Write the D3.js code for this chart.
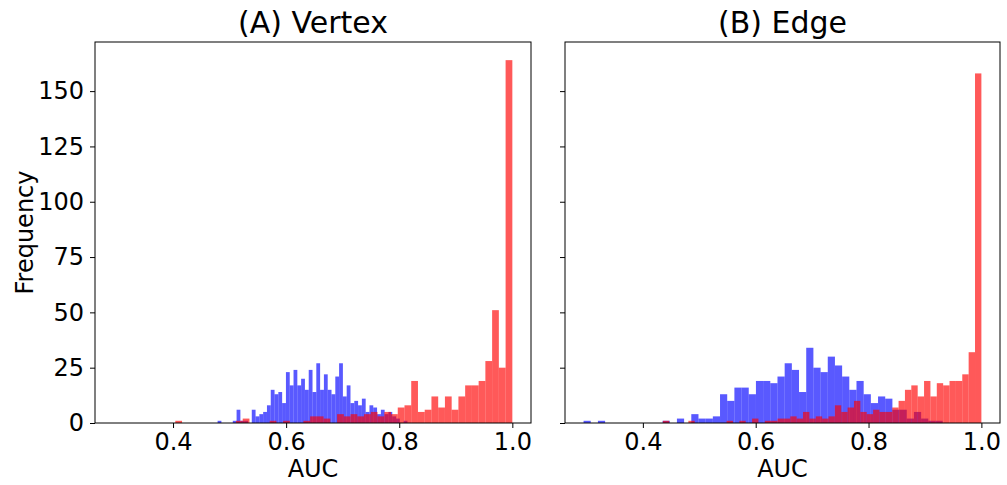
<!DOCTYPE html>
<html>
<head>
<script src="https://cdnjs.cloudflare.com/ajax/libs/d3/7.8.5/d3.min.js"></script>
<style>
  body { margin: 0; background: white; }
  svg text { font-family: "DejaVu Sans", sans-serif; fill: black; }
</style>
</head>
<body>
<script>
var titles = ["(A) Vertex", "(B) Edge"];
var xTicks = [0.4, 0.6, 0.8, 1.0];
var yTicks = [0, 25, 50, 75, 100, 125, 150];

// each histogram: 50 bins spread over [min, max]
var vertexBlueRange = [0.4788, 0.8145];
var vertexBlue = [1, 0, 0, 0, 1, 6, 1, 1, 0, 6,
                  3, 4, 5, 8, 15, 13, 14, 9, 23, 17,
                  24, 17, 20, 15, 24, 14, 27, 15, 22, 15,
                  13, 21, 27, 12, 17, 9, 10, 8, 11, 5,
                  8, 7, 4, 6, 4, 5, 3, 2, 0, 1];
var vertexRedRange = [0.404, 1.0];
var vertexRed = [1, 0, 0, 0, 0, 0, 0, 0, 0, 1,
                 2, 0, 0, 0, 1, 0, 1, 0, 0, 1,
                 3, 3, 2, 0, 4, 3, 4, 3, 4, 5,
                 3, 5, 4, 7, 8, 19, 5, 6, 12, 7,
                 12, 6, 12, 17, 17, 19, 28, 51, 25, 164];
var edgeBlueRange = [0.2949, 0.9314];
var edgeBlue = [1, 0, 1, 0, 0, 0, 0, 0, 0, 0,
                0, 1, 0, 2, 0, 4, 2, 2, 3, 13,
                10, 16, 16, 13, 19, 19, 18, 21, 27, 24,
                14, 34, 25, 23, 30, 26, 21, 15, 19, 13,
                9, 12, 11, 6, 6, 2, 5, 2, 1, 1];
var edgeRedRange = [0.4355, 1.0];
var edgeRed = [1, 0, 0, 0, 1, 0, 0, 0, 0, 0,
               1, 0, 1, 0, 2, 0, 1, 1, 2, 2,
               3, 2, 5, 2, 3, 2, 3, 8, 5, 7,
               10, 5, 4, 6, 5, 5, 7, 10, 15, 17,
               12, 19, 12, 18, 17, 19, 19, 22, 32, 158];

function toBins(range, counts) {
    var w = (range[1] - range[0]) / counts.length;
    return counts.map(function(c, i) {
        return { x0: range[0] + i * w, x1: range[0] + (i + 1) * w, n: c };
    });
}

var panels = [
    { left: 95, width: 436, title: titles[0], showY: true,
      blue: toBins(vertexBlueRange, vertexBlue), red: toBins(vertexRedRange, vertexRed) },
    { left: 565, width: 435, title: titles[1], showY: false,
      blue: toBins(edgeBlueRange, edgeBlue), red: toBins(edgeRedRange, edgeRed) }
];

var plotTop = 42, plotHeight = 381;

var svg = d3.select('body')
    .append('svg')
    .attr('width', 1007)
    .attr('height', 485);

var y = d3.scaleLinear()
    .domain([0, 172.2])
    .range([plotTop + plotHeight, plotTop]);

panels.forEach(function(p) {
    var x = d3.scaleLinear()
        .domain([0.262, 1.033])
        .range([p.left, p.left + p.width]);

    var g = svg.append('g');

    [['blue', p.blue], ['red', p.red]].forEach(function(s) {
        g.selectAll(null)
            .data(s[1].filter(function(d) { return d.n > 0; }))
            .enter()
            .append('rect')
            .attr('x', function(d) { return x(d.x0); })
            .attr('width', function(d) { return x(d.x1) - x(d.x0); })
            .attr('y', function(d) { return y(d.n); })
            .attr('height', function(d) { return y(0) - y(d.n); })
            .attr('fill', s[0])
            .attr('fill-opacity', 0.65);
    });

    // frame
    g.append('rect')
        .attr('x', p.left)
        .attr('y', plotTop)
        .attr('width', p.width)
        .attr('height', plotHeight)
        .attr('fill', 'none')
        .attr('stroke', 'black')
        .attr('stroke-width', 1);

    var xAxis = g.append('g')
        .attr('transform', 'translate(0,' + (plotTop + plotHeight) + ')')
        .call(d3.axisBottom(x).tickValues(xTicks).tickFormat(d3.format('.1f'))
            .tickSize(5).tickPadding(5));

    var yAxis = g.append('g')
        .attr('transform', 'translate(' + p.left + ',0)')
        .call(d3.axisLeft(y).tickValues(yTicks).tickSize(5).tickPadding(6)
            .tickFormat(p.showY ? d3.format('d') : ''));

    [xAxis, yAxis].forEach(function(a) {
        a.select('.domain').remove();
        a.selectAll('line').attr('stroke', 'black');
        a.selectAll('text').style('font-size', '24px')
            .style('font-family', '"DejaVu Sans", sans-serif');
    });

    g.append('text')
        .attr('x', p.left + p.width / 2)
        .attr('y', 33)
        .attr('text-anchor', 'middle')
        .style('font-size', '30px')
        .text(p.title);

    g.append('text')
        .attr('x', p.left + p.width / 2)
        .attr('y', 477)
        .attr('text-anchor', 'middle')
        .style('font-size', '24px')
        .text('AUC');
});

svg.append('text')
    .attr('transform', 'translate(33,' + (plotTop + plotHeight / 2) + ') rotate(-90)')
    .attr('text-anchor', 'middle')
    .style('font-size', '24px')
    .text('Frequency');
</script>
</body>
</html>
